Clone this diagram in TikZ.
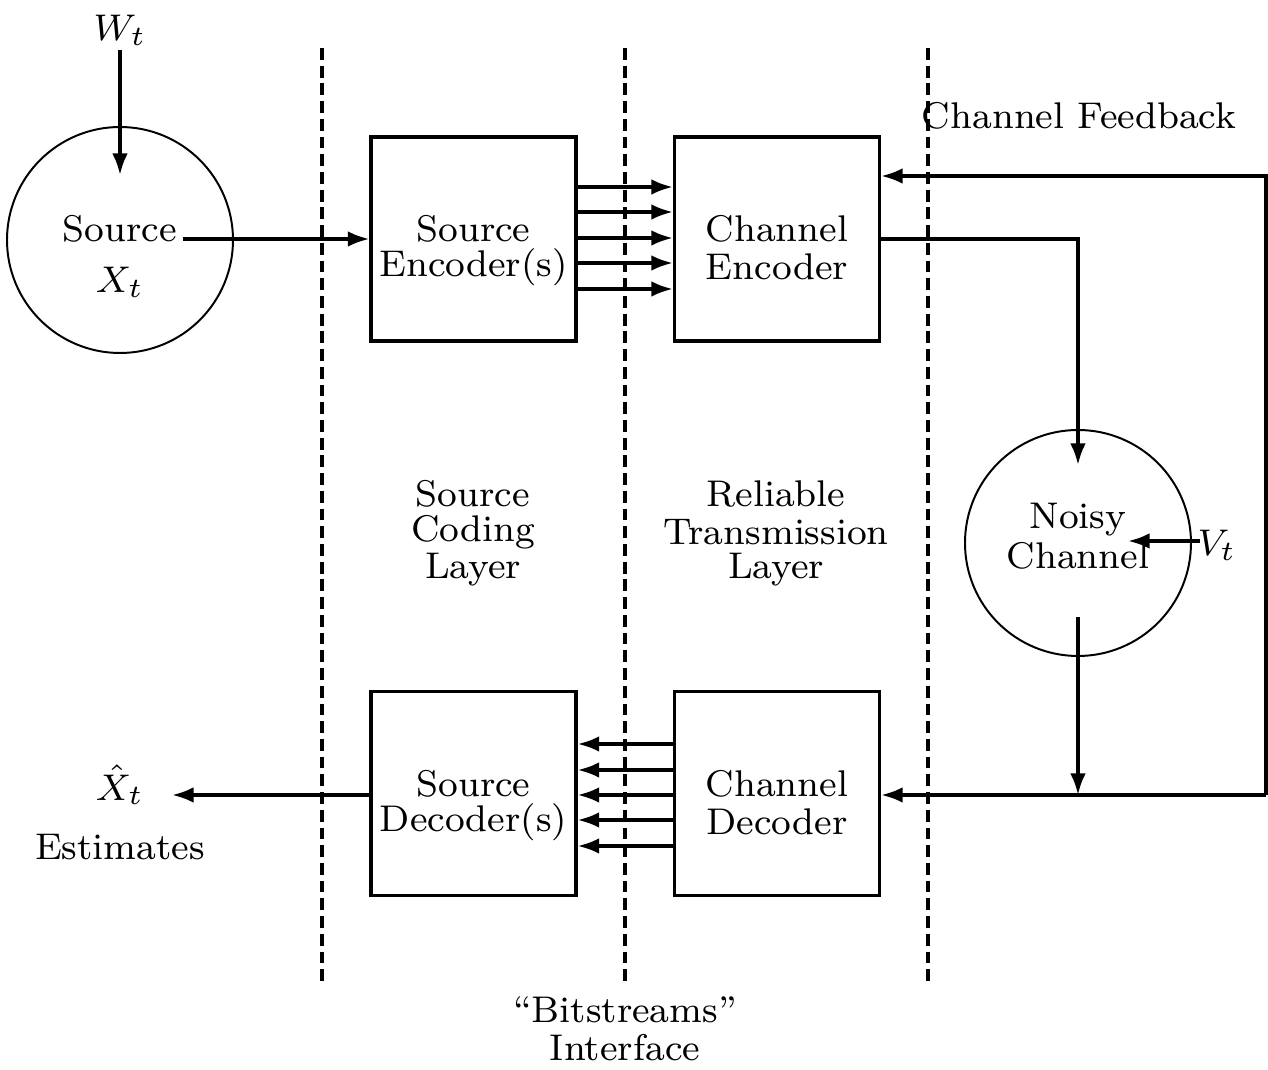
\documentclass[tikz,border=0pt]{standalone}
\usetikzlibrary{arrows.meta}
\newcommand{\Tx}[1]{\scalebox{1.18}{\fontsize{8}{8}\selectfont #1}}
\begin{document}
\begin{tikzpicture}[x=0.254pt,y=-0.254pt,
  txt/.style={inner sep=0pt},
  blk/.style={draw,line width=0.8pt,minimum width=205\unitpx,minimum height=204\unitpx,inner sep=0pt},
  circ/.style={draw,circle,line width=0.5pt,minimum size=226\unitpx,inner sep=0pt},
  ln/.style={line width=0.9pt},
  arr/.style={ln,-{Latex[length=5.5pt,width=4pt]}},
  sep/.style={line width=0.85pt,dash pattern=on 3pt off 1.5pt}]
\def\unitpx{*0.254pt}
\useasboundingbox (0,0) rectangle (1268,1070);
% separators
\coordinate (s1t) at (322,48); \coordinate (s1b) at (322,985);
\coordinate (s2t) at (625,48); \coordinate (s2b) at (625,985);
\coordinate (s3t) at (928,48); \coordinate (s3b) at (928,985);
\draw[sep] (s1t) -- (s1b);
\draw[sep] (s2t) -- (s2b);
\draw[sep] (s3t) -- (s3b);
% source circle
\node[circ] (src) at (120,240) {};
\node[txt] (srcl) at (120,229) {\Tx{Source}};
\node[txt] (xt) at (120,282) {\Tx{$X_t$}};
\node[txt] (wt) at (120,30) {\Tx{$W_t$}};
\coordinate (wts) at (120,50);
\coordinate (wte) at (120,175);
\draw[arr] (wts) -- (wte);
% boxes
\node[blk] (se) at (473.5,239) {};
\node[txt] at (473.5,229) {\Tx{Source}}; \node[txt] at (473.5,267) {\Tx{Encoder(s)}};
\node[blk] (ce) at (777,239) {};
\node[txt] at (777,229) {\Tx{Channel}}; \node[txt] at (777,267) {\Tx{Encoder}};
\node[blk] (sd) at (473.5,793.5) {};
\node[txt] at (473.5,784) {\Tx{Source}}; \node[txt] at (473.5,822) {\Tx{Decoder(s)}};
\node[blk] (cd) at (777,793.5) {};
\node[txt] at (777,784) {\Tx{Channel}}; \node[txt] at (777,822) {\Tx{Decoder}};
% source -> encoder
\coordinate (srcout) at (183,239);
\draw[arr] (srcout) -- (se.west |- srcout);
% bitstreams
\foreach \y in {187,212,238,263,289}{
  \draw[arr] (se.east |- 0,\y) -- (ce.west |- 0,\y);
}
\foreach \y in {744,770,795,820,846}{
  \draw[arr] (cd.west |- 0,\y) -- (sd.east |- 0,\y);
}
% noisy channel
\node[circ] (nc) at (1078,543) {};
\node[txt] at (1078,520) {\Tx{Noisy}}; \node[txt] at (1078,556) {\Tx{Channel}};
\node[txt] (vt) at (1217,545) {\Tx{$V_t$}};
\coordinate (vts) at (1200,541);
\coordinate (vte) at (1128,541);
\draw[arr] (vts) -- (vte);
\coordinate (corner1) at (1078,239);
\coordinate (ncin) at (1078,465);
\draw[arr] (ce.east |- corner1) -- (corner1) -- (ncin);
\coordinate (ncout) at (1078,617);
\coordinate (junc) at (1078,795);
\draw[arr] (ncout) -- (junc);
\coordinate (fbr) at (1266,795);
\coordinate (fbt) at (1266,176);
\draw[arr] (fbr) -- (cd.east |- fbr);
\draw[arr] (fbr) -- (fbt) -- (ce.east |- fbt);
\node[txt] (fb) at (1079,116) {\Tx{Channel Feedback}};
% output
\coordinate (xhat) at (172,795);
\draw[arr] (sd.west |- xhat) -- (xhat);
\node[txt] at (120,785) {\Tx{$\hat{X}_t$}};
\node[txt] at (120,847) {\Tx{Estimates}};
% layer labels
\node[txt] at (473,494) {\Tx{Source}}; \node[txt] at (473,532) {\Tx{Coding}}; \node[txt] at (473,570) {\Tx{Layer}};
\node[txt] at (776,494) {\Tx{Reliable}}; \node[txt] at (776,532) {\Tx{Transmission}}; \node[txt] at (776,570) {\Tx{Layer}};
\node[txt] at (625,1010) {\Tx{``Bitstreams''}}; \node[txt] at (625,1048) {\Tx{Interface}};
\end{tikzpicture}
\end{document}
